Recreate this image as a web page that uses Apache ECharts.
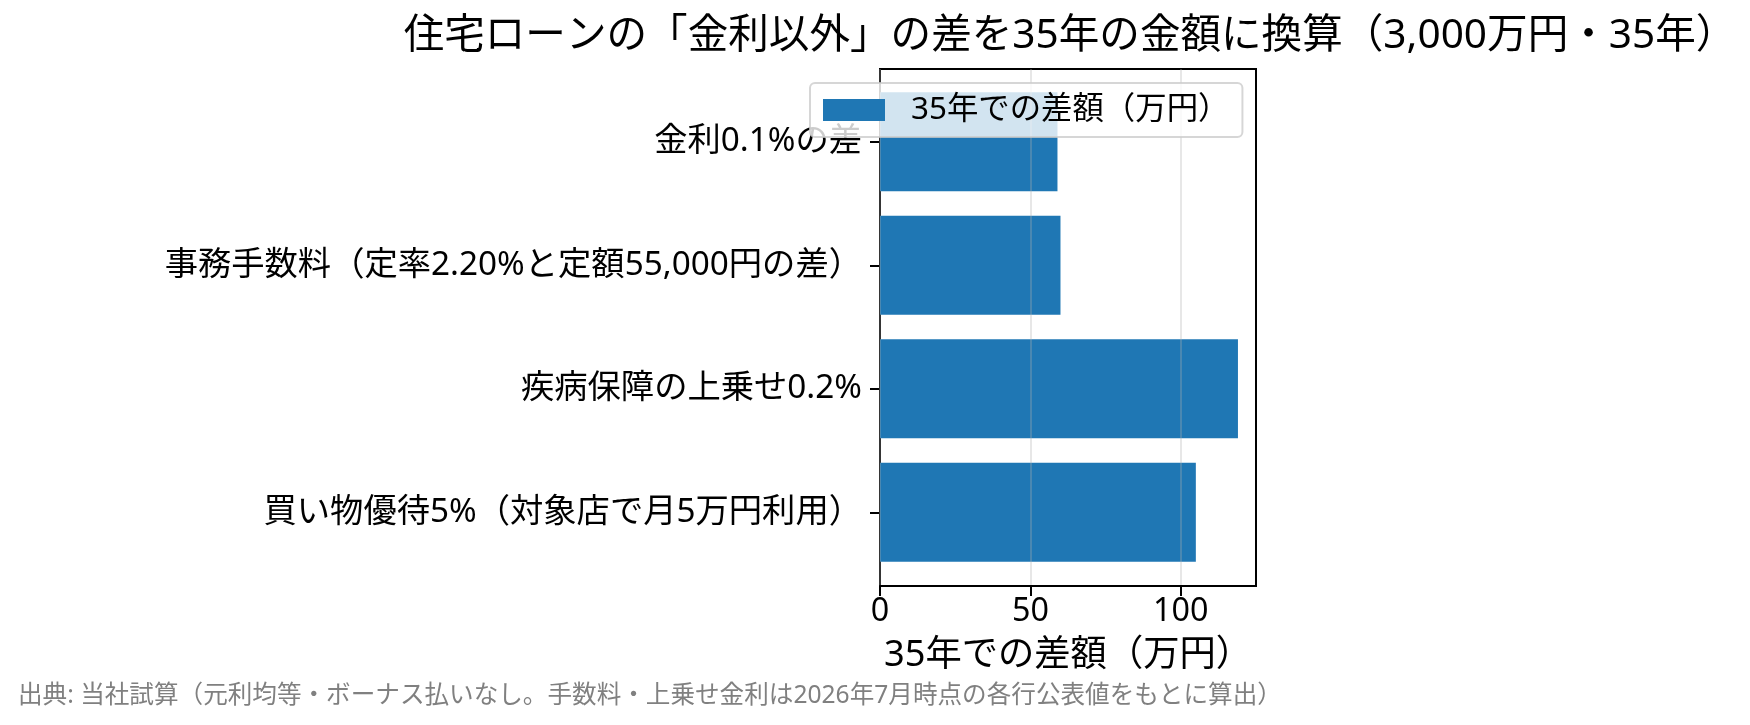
<!DOCTYPE html>
<html>
<head>
<meta charset="utf-8">
<script src="https://cdn.jsdelivr.net/npm/echarts@6/dist/echarts.min.js"></script>
<style>
  html, body { margin: 0; padding: 0; background: #fff; }
  #chart { width: 1750px; height: 725px; }
</style>
</head>
<body>
<div id="chart"></div>
<script>
// data
var categories = [
    '金利0.1%の差',
    '事務手数料（定率2.20%と定額55,000円の差）',
    '疾病保障の上乗せ0.2%',
    '買い物優待5%（対象店で月5万円利用）'
];
var diffValues = [59, 60, 119, 105];
var xTicks = [0, 50, 100];
var seriesName = '35年での差額（万円）';
var titleText = '住宅ローンの「金利以外」の差を35年の金額に換算（3,000万円・35年）';
var noteText = '出典: 当社試算（元利均等・ボーナス払いなし。手数料・上乗せ金利は2026年7月時点の各行公表値をもとに算出）';

// latin glyphs from Noto Sans, CJK from Noto Sans CJK JP
var FONT = '"Noto Sans", "Noto Sans CJK JP", sans-serif';
var xMax = 125;

var chart = echarts.init(document.getElementById('chart'));
var option = {
    animation: false,
    textStyle: { fontFamily: FONT },
    graphic: [
        {
            type: 'text', x: 1070, y: 36,
            style: { text: titleText, font: '40.6px ' + FONT, fill: '#000', align: 'center', verticalAlign: 'middle' }
        },
        {
            type: 'text', x: 18, y: 696,
            style: { text: noteText, font: '24.6px ' + FONT, fill: '#808080', align: 'left', verticalAlign: 'middle' }
        }
    ],
    legend: {
        left: 810, top: 83,
        data: [seriesName],
        icon: 'rect',
        itemWidth: 62, itemHeight: 22,
        padding: [10, 13, 10, 13],
        backgroundColor: 'rgba(255,255,255,0.8)',
        borderColor: 'rgba(204,204,204,0.8)',
        borderWidth: 2,
        borderRadius: 5,
        textStyle: { fontSize: 31.4, color: '#000', fontFamily: FONT, padding: [0, 0, 0, 21], lineHeight: 34 }
    },
    grid: [
        // outer frame (axes box)
        { left: 880, right: 494, top: 69, bottom: 139, show: true, borderColor: '#000', borderWidth: 2, backgroundColor: 'transparent' },
        // bars
        { left: 880, right: 494, top: 80, bottom: 151 }
    ],
    xAxis: [
        {
            gridIndex: 0, type: 'value', min: 0, max: xMax, interval: 50, z: 3,
            name: seriesName, nameLocation: 'middle', nameGap: 52,
            nameTextStyle: { fontSize: 36.3, color: '#000', fontFamily: FONT },
            axisLine: { show: true, lineStyle: { color: '#000', width: 2 } },
            axisTick: { show: true, length: 10, lineStyle: { color: '#000', width: 2 }, customValues: xTicks },
            axisLabel: { fontSize: 32.3, color: '#000', margin: 10, fontFamily: FONT, customValues: xTicks },
            splitLine: { show: true, lineStyle: { color: 'rgba(176,176,176,0.3)', width: 2 } }
        },
        { gridIndex: 1, type: 'value', min: 0, max: xMax, show: false }
    ],
    yAxis: [
        { gridIndex: 0, type: 'value', show: false },
        {
            gridIndex: 1, type: 'category', inverse: true, data: categories,
            axisLine: { show: true, lineStyle: { color: '#000', width: 2 } },
            axisTick: { show: true, alignWithLabel: true, length: 10, lineStyle: { color: '#000', width: 2 } },
            axisLabel: { fontSize: 33.3, color: '#000', margin: 18, fontFamily: FONT },
            splitLine: { show: false }
        }
    ],
    series: [{
        name: seriesName,
        type: 'bar',
        xAxisIndex: 1, yAxisIndex: 1,
        data: diffValues,
        barWidth: '80%',
        itemStyle: { color: '#1f77b4' }
    }]
};
chart.setOption(option);
</script>
</body>
</html>
